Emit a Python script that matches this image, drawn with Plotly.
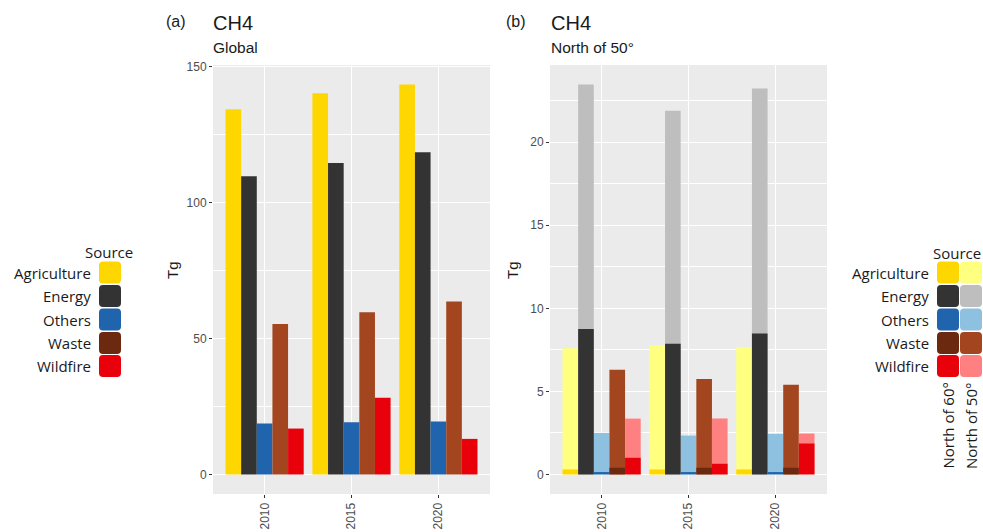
import plotly.graph_objects as go

W, H = 983, 532

years = [2010, 2015, 2020]
sources = ["Agriculture", "Energy", "Others", "Waste", "Wildfire"]

# Panel (a): global CH4 emissions (Tg)
global_agriculture = [134.4, 140.3, 143.5]
global_energy = [109.7, 114.6, 118.6]
global_others = [18.8, 19.2, 19.5]
global_waste = [55.4, 59.7, 63.7]
global_wildfire = [16.9, 28.2, 13.1]

# Panel (b): north of 50° and north of 60° (Tg)
n50_agriculture = [7.6, 7.77, 7.65]
n50_energy = [23.47, 21.9, 23.24]
n50_others = [2.5, 2.34, 2.44]
n50_waste = [6.3, 5.75, 5.4]
n50_wildfire = [3.36, 3.36, 2.46]

n60_agriculture = [0.3, 0.3, 0.3]
n60_energy = [8.75, 7.87, 8.49]
n60_others = [0.14, 0.14, 0.14]
n60_waste = [0.4, 0.4, 0.4]
n60_wildfire = [1.0, 0.64, 1.86]

dark_colors = {"Agriculture": "#FFD700", "Energy": "#333333", "Others": "#1F64AD",
               "Waste": "#6B2A10", "Wildfire": "#E8000B"}
light_colors = {"Agriculture": "#FFFF80", "Energy": "#BEBEBE", "Others": "#8EC1E0",
                "Waste": "#A3451E", "Wildfire": "#FF8080"}
global_colors = {"Agriculture": "#FFD700", "Energy": "#333333", "Others": "#1F64AD",
                 "Waste": "#A3451E", "Wildfire": "#E8000B"}

global_vals = dict(zip(sources, [global_agriculture, global_energy, global_others,
                                 global_waste, global_wildfire]))
n50_vals = dict(zip(sources, [n50_agriculture, n50_energy, n50_others,
                              n50_waste, n50_wildfire]))
n60_vals = dict(zip(sources, [n60_agriculture, n60_energy, n60_others,
                              n60_waste, n60_wildfire]))

fig = go.Figure()

for s in sources:
    fig.add_trace(go.Bar(x=years, y=global_vals[s], name=s, offsetgroup=s,
                         marker=dict(color=global_colors[s], line=dict(width=0)),
                         xaxis="x", yaxis="y", showlegend=False))
for s in sources:
    fig.add_trace(go.Bar(x=years, y=n50_vals[s], name=s + " N50", offsetgroup=s,
                         marker=dict(color=light_colors[s], line=dict(width=0)),
                         xaxis="x2", yaxis="y2", showlegend=False))
for s in sources:
    fig.add_trace(go.Bar(x=years, y=n60_vals[s], name=s + " N60", offsetgroup=s,
                         marker=dict(color=dark_colors[s], line=dict(width=0)),
                         xaxis="x2", yaxis="y2", showlegend=False))


def px(x):
    return x / W


def py(y):
    return 1 - y / H


ydom = [py(494), py(65)]
tickfont = dict(family="Liberation Sans, Arial", size=12, color="#4D4D4D")

xcommon = dict(range=[2007.03, 2022.97], tickvals=years, ticktext=[str(y) for y in years],
               tickangle=-90, ticks="outside", ticklen=3, tickcolor="#333333",
               showgrid=True, gridcolor="white", gridwidth=1.1, zeroline=False,
               showline=False, tickfont=tickfont, automargin=False, fixedrange=True)
ycommon = dict(ticks="outside", ticklen=3, tickcolor="#333333", showgrid=True,
               gridcolor="white", gridwidth=1.1, zeroline=False, showline=False,
               tickfont=tickfont, automargin=False, domain=ydom)

fig.update_layout(
    width=W, height=H,
    margin=dict(l=0, r=0, t=0, b=0),
    paper_bgcolor="white",
    plot_bgcolor="#EBEBEB",
    barmode="group", bargap=0.1, bargroupgap=0,
    showlegend=False,
    xaxis=dict(domain=[px(213), px(490)], anchor="y", **xcommon),
    yaxis=dict(range=[-7.18, 150.68], tickvals=[0, 50, 100, 150], anchor="x",
               minor=dict(tickvals=[25, 75, 125], showgrid=True, gridcolor="white",
                          gridwidth=0.5, ticks=""),
               **ycommon),
    xaxis2=dict(domain=[px(550), px(827)], anchor="y2", **xcommon),
    yaxis2=dict(range=[-1.18, 24.65], tickvals=[0, 5, 10, 15, 20], anchor="x2",
                minor=dict(tickvals=[2.5, 7.5, 12.5, 17.5, 22.5], showgrid=True,
                           gridcolor="white", gridwidth=0.5, ticks=""),
                **ycommon),
)

ann = []
title_font = "Liberation Sans, Arial"


def text(x, y, t, size, color="#1A1A1A", xanchor="left", family=title_font, angle=0):
    ann.append(dict(x=px(x), y=py(y), xref="paper", yref="paper", text=t,
                    showarrow=False, xanchor=xanchor, yanchor="middle",
                    font=dict(family=family, size=size, color=color), textangle=angle))


# Panel titles
text(176, 21, "(a)", 16, xanchor="center")
text(211, 23, "CH4", 20)
text(211, 47, "Global", 15.5)
text(516, 21, "(b)", 16, xanchor="center")
text(549, 23, "CH4", 20)
text(549, 47, "North of 50°", 15.5)
# Y axis titles
text(172, 270, "Tg", 15, xanchor="center", angle=-90)
text(512, 270, "Tg", 15, xanchor="center", angle=-90)

legend_font = "Open Sans"
row_y = [272.5, 296, 319.5, 343, 366]

# Left legend (panel a)
text(135, 252, "Source", 15, color="#1A1A1A", xanchor="right", family=legend_font)
for s, yy in zip(sources, row_y):
    text(93, yy, s, 15, xanchor="right", family=legend_font)

# Right legend (panel b)
text(983, 253, "Source", 15, color="#1A1A1A", xanchor="right", family=legend_font)
for s, yy in zip(sources, row_y):
    text(931, yy, s, 15, xanchor="right", family=legend_font)
text(947.5, 426, "North of 60°", 15, xanchor="center", family=legend_font, angle=-90)
text(971, 426, "North of 50°", 15, xanchor="center", family=legend_font, angle=-90)

shapes = []


def swatch(x0, x1, yc, color, r=4):
    y0, y1 = yc - 11, yc + 11
    X0, X1 = px(x0), px(x1)
    Y0, Y1 = py(y1), py(y0)
    rx, ry = r / W, r / H
    path = (f"M {X0+rx},{Y0} L {X1-rx},{Y0} Q {X1},{Y0} {X1},{Y0+ry} "
            f"L {X1},{Y1-ry} Q {X1},{Y1} {X1-rx},{Y1} L {X0+rx},{Y1} "
            f"Q {X0},{Y1} {X0},{Y1-ry} L {X0},{Y0+ry} Q {X0},{Y0} {X0+rx},{Y0} Z")
    shapes.append(dict(type="path", path=path, xref="paper", yref="paper",
                       fillcolor=color, line=dict(width=0), layer="above"))


for s, yy in zip(sources, row_y):
    swatch(99, 121, yy, dark_colors[s])
    swatch(937, 959, yy, dark_colors[s])
    swatch(960, 982, yy, light_colors[s])

fig.update_layout(annotations=ann, shapes=shapes)

fig.write_html("out.html", config={"displayModeBar": False},
               post_script="document.body.style.margin='0';document.body.style.overflow='hidden';")
